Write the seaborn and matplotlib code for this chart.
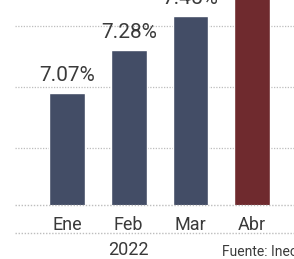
#!/usr/bin/env python3
"""Monthly inflation bars, 2022 (Jan-Apr), cropped newspaper style."""

import matplotlib
matplotlib.use('Agg')
import matplotlib.pyplot as plt
import seaborn as sns
import pandas as pd
from matplotlib.lines import Line2D

# —— DATA —— #
MONTHS = ['Ene', 'Feb', 'Mar', 'Abr']
VALUES = [7.07, 7.28, 7.45, 8.10]
COLORS = ['#3d4a6c', '#3d4a6c', '#3d4a6c', '#7a1f24']
GRID_VALUES = [6.8, 7.1, 7.4]
YEAR_LABEL = '2022'
SOURCE = 'Fuente: Inec'

# —— STYLE —— #
sns.set_theme(style='white')
plt.rcParams['font.family'] = ['Roboto', 'DejaVu Sans']
TEXT_COLOR = '#3a3a3a'
GRID_COLOR = '#bdbdbd'

W, H = 294, 259
fig = plt.figure(figsize=(W / 100, H / 100), dpi=100)
ax = fig.add_axes([0, 54 / H, 1, 205 / H])

df = pd.DataFrame({'month': MONTHS, 'value': VALUES})
sns.barplot(data=df, x='month', y='value', hue='month', palette=COLORS,
            legend=False, width=0.58, ax=ax, zorder=3)

Y0 = 6.517
ax.set_ylim(Y0, Y0 + 205 / 202.6)
ax.set_xlim(-67 / 61.7, (W - 67) / 61.7)

# dotted gridlines
for g in GRID_VALUES:
    ax.axhline(g, xmin=15 / W, xmax=1, color=GRID_COLOR, lw=0.9,
               ls=(0, (1, 1.2)), zorder=1)
ax.axhline(Y0, xmin=15 / W, xmax=1, color=GRID_COLOR, lw=1.0,
           ls=(0, (1, 1.2)), zorder=4, clip_on=False)

# value labels
for cont in ax.containers:
    ax.bar_label(cont, labels=[f'{v:.2f}%' for v in cont.datavalues],
                 padding=6, fontsize=15, color=TEXT_COLOR)

ax.set_xlabel('')
ax.set_ylabel('')
ax.set_yticks([])
ax.tick_params(axis='x', length=0, pad=8, labelsize=13, labelcolor=TEXT_COLOR)
sns.despine(ax=ax, left=True, bottom=True, right=True, top=True)

# separator line under month labels
fig.add_artist(Line2D([15 / W, 1], [1 - 233 / H, 1 - 233 / H],
                      color=GRID_COLOR, lw=1.0, ls=(0, (1, 1.2))))

fig.text(128 / W, 1 - 250 / H, YEAR_LABEL, ha='center', va='center',
         fontsize=13, color=TEXT_COLOR)
fig.text(222 / W, 1 - 252 / H, SOURCE, ha='left', va='center',
         fontsize=10, color=TEXT_COLOR)

fig.savefig('out.png', dpi=100)
